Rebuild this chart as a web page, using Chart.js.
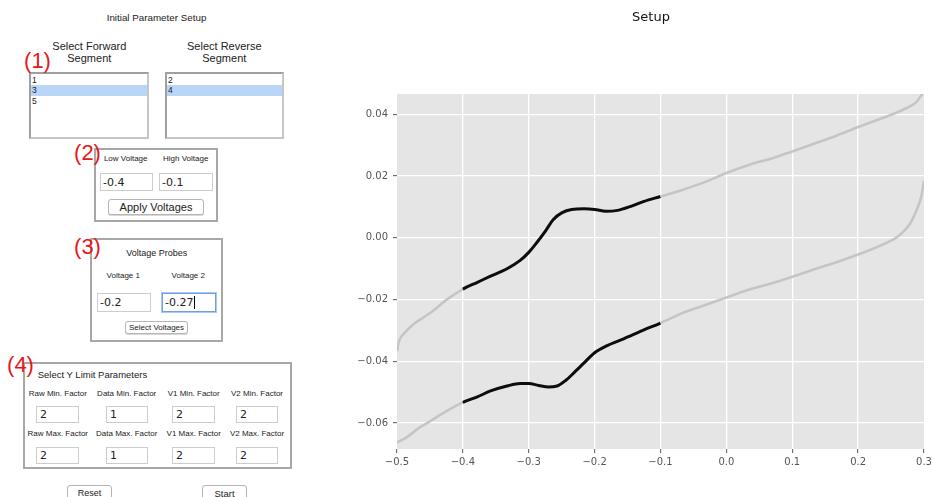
<!DOCTYPE html>
<html>
<head>
<meta charset="utf-8">
<script src="https://cdn.jsdelivr.net/npm/chart.js@4.4.1/dist/chart.umd.min.js"></script>
<style>
  html, body { margin: 0; padding: 0; background: #fff; width: 933px; height: 497px; overflow: hidden;
    font-family: "Liberation Sans", Arial, sans-serif; color: #222; }
  .t { position: absolute; white-space: nowrap; line-height: 1; transform: translate(-50%, -50%); }
  .tl { position: absolute; white-space: nowrap; line-height: 1; transform: translateY(-50%); }
  .tag { position: absolute; white-space: nowrap; line-height: 1; transform: translate(-50%, -50%);
    color: #e8161b; font-size: 22px; z-index: 3; }
  .group { position: absolute; box-sizing: border-box; border: 2px solid #a7a7a7; background: #fff; }
  .list { position: absolute; box-sizing: border-box; border: 2px solid #9f9f9f;
    border-right-color: #c6c6c6; border-bottom-color: #c6c6c6; background: #fff; overflow: hidden; }
  .row { position: absolute; left: 0; right: 0; height: 10.7px; font-size: 8.5px; line-height: 10.7px; padding-left: 1px; }
  .row.sel { background: #b9d6f9; }
  .entry { position: absolute; box-sizing: border-box; border: 1px solid #cdcdcd; background: #fff;
    font-family: "DejaVu Sans", sans-serif; font-size: 11px; display: flex; align-items: center; padding-left: 2px; }
  .entry.focus { border: 1px solid #6f9fe0; box-shadow: 0 0 0 1px #a9c8f1; }
  .caret { border-right: 1px solid #000; height: 13px; display: inline-block; margin-left: 1px; }
  .btn { position: absolute; box-sizing: border-box; border: 1px solid #b5b5b5; border-radius: 3px; background: #fff;
    display: flex; align-items: center; justify-content: center; white-space: nowrap; box-shadow: 0 1px 0 #d8d8d8; }
  .lbl { font-size: 8px; }
  #plotWrap { position: absolute; left: 330px; top: 0; width: 642px; height: 497px; }
</style>
</head>
<body>

<!-- parameter panel -->
<div class="t" style="left:156.5px; top:18.3px; font-size:9.8px;">Initial Parameter Setup</div>

<div class="t" style="left:89.3px; top:46px; font-size:11px;">Select Forward</div>
<div class="t" style="left:89.3px; top:58.3px; font-size:11px;">Segment</div>
<div class="t" style="left:224.3px; top:46px; font-size:11px;">Select Reverse</div>
<div class="t" style="left:224.3px; top:58.3px; font-size:11px;">Segment</div>
<div class="tag" style="left:37.5px; top:61px;">(1)</div>

<div class="list" style="left:29px; top:72px; width:120px; height:67px;">
  <div class="row" style="top:0.5px;">1</div>
  <div class="row sel" style="top:11.2px;">3</div>
  <div class="row" style="top:21.9px;">5</div>
</div>
<div class="list" style="left:165px; top:72px; width:119px; height:67px;">
  <div class="row" style="top:0.5px;">2</div>
  <div class="row sel" style="top:11.2px;">4</div>
</div>

<div class="group" style="left:94px; top:148px; width:124px; height:74px;"></div>
<div class="tag" style="left:87.5px; top:153px;">(2)</div>
<div class="t lbl" style="left:125.7px; top:159.3px;">Low Voltage</div>
<div class="t lbl" style="left:185.7px; top:159.3px;">High Voltage</div>
<div class="entry" style="left:100px; top:173px; width:53px; height:18px;">-0.4</div>
<div class="entry" style="left:159px; top:173px; width:54px; height:18px;">-0.1</div>
<div class="btn" style="left:108px; top:199px; width:96px; height:16px; font-size:11px;">Apply Voltages</div>

<div class="group" style="left:90px; top:238px; width:133px; height:104px;"></div>
<div class="tag" style="left:87.5px; top:246.7px;">(3)</div>
<div class="t" style="left:156.7px; top:252.7px; font-size:9px;">Voltage Probes</div>
<div class="t lbl" style="left:123.3px; top:275.7px;">Voltage 1</div>
<div class="t lbl" style="left:188.3px; top:275.7px;">Voltage 2</div>
<div class="entry" style="left:97px; top:293px; width:54px; height:19px;">-0.2</div>
<div class="entry focus" style="left:162px; top:293px; width:54px; height:19px;">-0.27<span class="caret"></span></div>
<div class="btn" style="left:125px; top:321px; width:63px; height:13px; font-size:8px;">Select Voltages</div>

<div class="group" style="left:23px; top:362px; width:269px; height:107px;"></div>
<div class="tag" style="left:20.5px; top:365px;">(4)</div>
<div class="tl" style="left:37.7px; top:375px; font-size:9.5px;">Select Y Limit Parameters</div>
<div class="t lbl" style="left:57.8px; top:393.7px;">Raw Min. Factor</div>
<div class="t lbl" style="left:126.7px; top:393.7px;">Data Min. Factor</div>
<div class="t lbl" style="left:193.7px; top:393.7px;">V1 Min. Factor</div>
<div class="t lbl" style="left:257px; top:393.7px;">V2 Min. Factor</div>
<div class="entry" style="left:36px; top:406px; width:43px; height:17px; padding-left:3px;">2</div>
<div class="entry" style="left:106px; top:406px; width:42px; height:17px; padding-left:3px;">1</div>
<div class="entry" style="left:172px; top:406px; width:43px; height:17px; padding-left:3px;">2</div>
<div class="entry" style="left:236px; top:406px; width:42px; height:17px; padding-left:3px;">2</div>
<div class="t lbl" style="left:57.8px; top:434px;">Raw Max. Factor</div>
<div class="t lbl" style="left:126.7px; top:434px;">Data Max. Factor</div>
<div class="t lbl" style="left:193.7px; top:434px;">V1 Max. Factor</div>
<div class="t lbl" style="left:257px; top:434px;">V2 Max. Factor</div>
<div class="entry" style="left:36px; top:447px; width:43px; height:17px; padding-left:3px;">2</div>
<div class="entry" style="left:106px; top:447px; width:42px; height:17px; padding-left:3px;">1</div>
<div class="entry" style="left:172px; top:447px; width:43px; height:17px; padding-left:3px;">2</div>
<div class="entry" style="left:236px; top:447px; width:42px; height:17px; padding-left:3px;">2</div>

<div class="btn" style="left:67px; top:485px; width:45px; height:16px; font-size:9px; align-items:flex-start; padding-top:2px;">Reset</div>
<div class="btn" style="left:202px; top:485px; width:45px; height:16px; font-size:9.5px; align-items:flex-start; padding-top:2px;">Start</div>

<!-- current–voltage plot -->
<div id="plotWrap"><canvas id="plot"></canvas></div>

<script>
// Analysis window (Apply Voltages)
const lowVoltage = -0.4;
const highVoltage = -0.1;

// Forward sweep (segment 3): voltage and current
const forwardV = [-0.500, -0.497, -0.488, -0.475, -0.460, -0.445, -0.425, -0.400, -0.378, -0.358,
                  -0.333, -0.313, -0.300, -0.288, -0.275, -0.263, -0.250, -0.235, -0.216, -0.200,
                  -0.183, -0.165, -0.145, -0.125, -0.100, -0.066, -0.030, 0.000, 0.035, 0.071,
                  0.100, 0.136, 0.167, 0.200, 0.237, 0.268, 0.288, 0.297, 0.300];
const forwardI = [-0.0367, -0.0335, -0.0307, -0.0280, -0.0258, -0.0236, -0.0201, -0.0166, -0.0144, -0.0124,
                  -0.0100, -0.0073, -0.0047, -0.0016, 0.0021, 0.0059, 0.0081, 0.0092, 0.0094, 0.0092,
                  0.0086, 0.0089, 0.0102, 0.0118, 0.0134, 0.0156, 0.0183, 0.0210, 0.0237, 0.0259,
                  0.0280, 0.0307, 0.0331, 0.0359, 0.0388, 0.0415, 0.0439, 0.0464, 0.0470];

// Reverse sweep (segment 4): voltage and current
const reverseV = [-0.500, -0.486, -0.466, -0.445, -0.425, -0.400, -0.378, -0.358, -0.333, -0.313,
                  -0.300, -0.285, -0.270, -0.257, -0.244, -0.229, -0.216, -0.200, -0.181, -0.156,
                  -0.126, -0.100, -0.066, -0.030, 0.000, 0.035, 0.071, 0.100, 0.136, 0.167,
                  0.200, 0.237, 0.262, 0.278, 0.288, 0.296, 0.300];
const reverseI = [-0.0663, -0.0647, -0.0615, -0.0588, -0.0561, -0.0533, -0.0515, -0.0496, -0.0480, -0.0472,
                  -0.0472, -0.0478, -0.0483, -0.0480, -0.0462, -0.0432, -0.0405, -0.0372, -0.0349, -0.0327,
                  -0.0299, -0.0276, -0.0243, -0.0216, -0.0193, -0.0167, -0.0146, -0.0126, -0.0100, -0.0079,
                  -0.0054, -0.0022, 0.0007, 0.0043, 0.0086, 0.0135, 0.0185];

// Axis ticks
const xTickValues = [-0.5, -0.4, -0.3, -0.2, -0.1, 0.0, 0.1, 0.2, 0.3];
const yTickValues = [-0.06, -0.04, -0.02, 0.00, 0.02, 0.04];
const xLimits = [-0.5, 0.3];
const yLimits = [-0.0684, 0.0466];

const RAW_COLOR = '#c5c5c5';
const WINDOW_COLOR = '#0d0d0d';

function inWindow(seg) {
  return seg.p0.parsed.x >= lowVoltage - 1e-9 && seg.p1.parsed.x <= highVoltage + 1e-9;
}

function sweep(vs, is) {
  return {
    data: vs.map((v, k) => ({ x: v, y: is[k] })),
    showLine: true,
    pointRadius: 0,
    borderColor: RAW_COLOR,
    borderWidth: 2.6,
    cubicInterpolationMode: 'monotone',
    segment: {
      borderColor: s => inWindow(s) ? WINDOW_COLOR : RAW_COLOR,
      borderWidth: s => inWindow(s) ? 3 : 2.6
    }
  };
}

const fmt = (v, d) => {
  const s = (Math.round(v * 1000) / 1000).toFixed(d);
  return s.startsWith('-') ? '\u2212' + s.slice(1) : s;
};

const panelBackground = {
  id: 'panelBackground',
  beforeDraw(chart) {
    const a = chart.chartArea, c = chart.ctx;
    c.save();
    c.fillStyle = '#e5e5e5';
    c.fillRect(a.left, a.top, a.right - a.left, a.bottom - a.top);
    c.restore();
  }
};

const tickFont = { family: 'DejaVu Sans', size: 10 };

new Chart(document.getElementById('plot'), {
  type: 'scatter',
  data: { datasets: [sweep(forwardV, forwardI), sweep(reverseV, reverseI)] },
  options: {
    responsive: true,
    maintainAspectRatio: false,
    animation: false,
    events: [],
    layout: { padding: 0 },
    plugins: {
      legend: { display: false },
      tooltip: { enabled: false },
      title: {
        display: true,
        text: 'Setup',
        color: '#111',
        font: { family: 'DejaVu Sans', size: 13, weight: 'normal' },
        padding: { top: 10, bottom: 68.4 }
      }
    },
    scales: {
      x: {
        type: 'linear',
        min: xLimits[0],
        max: xLimits[1],
        afterBuildTicks: s => { s.ticks = xTickValues.map(v => ({ value: v })); },
        afterFit: s => { s.height = 48; s.paddingLeft = 0; s.paddingRight = 0; },
        ticks: {
          color: '#555', font: tickFont, padding: 3, maxRotation: 0, autoSkip: false,
          callback: v => fmt(v, 1)
        },
        grid: {
          color: c => (c.index === 0 || c.index === xTickValues.length - 1) ? 'rgba(0,0,0,0)' : '#ffffff',
          lineWidth: 1.3, tickColor: '#555', tickLength: 4, tickWidth: 1
        },
        border: { display: false }
      },
      y: {
        type: 'linear',
        position: 'left',
        min: yLimits[0],
        max: yLimits[1],
        afterBuildTicks: s => { s.ticks = yTickValues.map(v => ({ value: v })); },
        afterFit: s => { s.width = 67; s.paddingTop = 0; s.paddingBottom = 0; },
        ticks: {
          color: '#555', font: tickFont, padding: 5, autoSkip: false,
          callback: v => fmt(v, 2)
        },
        grid: { color: '#ffffff', lineWidth: 1.3, tickColor: '#555', tickLength: 4, tickWidth: 1 },
        border: { display: false }
      },
      // empty right-hand margin so the figure title sits where the full figure centres it
      margin: {
        type: 'linear',
        position: 'right',
        display: true,
        ticks: { display: false },
        grid: { display: false },
        border: { display: false },
        afterFit: s => { s.width = 48; s.paddingTop = 0; s.paddingBottom = 0; }
      }
    }
  },
  plugins: [panelBackground]
});
</script>
</body>
</html>
